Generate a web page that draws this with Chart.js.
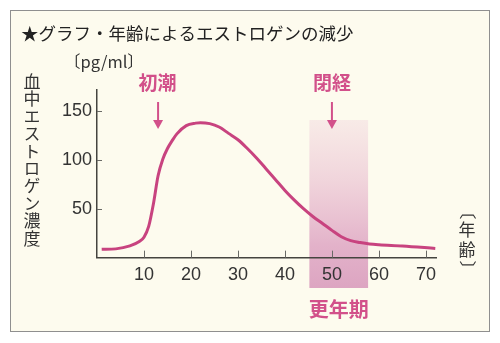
<!DOCTYPE html>
<html>
<head>
<meta charset="utf-8">
<script src="https://cdn.jsdelivr.net/npm/chart.js@4/dist/chart.umd.min.js"></script>
<style>
  html, body { margin: 0; padding: 0; background: #ffffff; }
  #wrap { width: 500px; height: 343px; position: relative; }
  #c { position: absolute; left: 0; top: 0; }
  .vlabel {
    position: absolute;
    writing-mode: vertical-rl;
    font-family: "Noto Sans CJK JP", "Noto Sans", sans-serif;
    color: #333333;
    white-space: nowrap;
  }
  #ytitle { left: 23.5px; top: 72.5px; font-size: 17px; line-height: 17px; letter-spacing: 0.4px; }
</style>
</head>
<body>
<div id="wrap">
  <canvas id="c" width="500" height="343"></canvas>
  <div class="vlabel" id="ytitle"></div>
</div>
<script>
// Age (years) and blood estrogen level (pg/ml)
const ages     = [1, 4, 7, 9, 10, 11, 12, 13, 14, 15, 16, 17, 19, 21, 22, 24, 26, 28, 30, 32, 34, 36, 38, 40, 42, 44, 46, 48, 50, 52, 54, 56, 58, 60, 65, 72];
const estrogen = [8.5, 9, 12, 16.5, 21, 32, 55, 84, 101, 112, 120, 127, 135.5, 138, 138.5, 137.5, 134, 127.5, 121, 112, 102, 91, 80, 69, 59, 50, 42, 35, 28, 21.5, 17.5, 15.5, 14, 13.2, 12, 9.5];

const xTicks = [10, 20, 30, 40, 50, 60, 70];
const yTicks = [50, 100, 150];

const menarcheAge = 13;
const menopauseAge = 50;
const climactericRange = [45.2, 57.7];

const titleText = '★グラフ・年齢によるエストロゲンの減少';
const unitText = '〔pg/ml〕';
const yAxisTitle = '血中エストロゲン濃度';
const xAxisTitle = ['〔', '年', '齢', '〕'];
const menarcheLabel = '初潮';
const menopauseLabel = '閉経';
const climactericLabel = '更年期';

document.getElementById('ytitle').textContent = yAxisTitle;

const PINK_LINE = '#c8437f';
const PINK_TEXT = '#d2508a';
const JP = '"Noto Sans CJK JP", "Noto Sans", sans-serif';
const NUM = '"Liberation Sans", Arial, sans-serif';

function drawArrow(ctx, x, y0, y1) {
  ctx.save();
  ctx.strokeStyle = PINK_TEXT;
  ctx.fillStyle = PINK_TEXT;
  ctx.lineWidth = 2;
  ctx.beginPath();
  ctx.moveTo(x, y0);
  ctx.lineTo(x, y1 - 7);
  ctx.stroke();
  ctx.beginPath();
  ctx.moveTo(x - 5, y1 - 9);
  ctx.lineTo(x + 5, y1 - 9);
  ctx.lineTo(x, y1);
  ctx.closePath();
  ctx.fill();
  ctx.restore();
}

const decor = {
  id: 'decor',
  beforeDraw(chart) {
    const ctx = chart.ctx;
    const xs = chart.scales.x;
    ctx.save();
    ctx.fillStyle = '#ffffff';
    ctx.fillRect(0, 0, chart.width, chart.height);
    ctx.fillStyle = '#fdfbee';
    ctx.fillRect(10, 10, 480, 322);
    ctx.strokeStyle = '#8f8f8f';
    ctx.lineWidth = 1;
    ctx.strokeRect(10.5, 10.5, 479, 321);

    // climacteric band, fading out toward the top
    const bx0 = xs.getPixelForValue(climactericRange[0]);
    const bx1 = xs.getPixelForValue(climactericRange[1]);
    const top = 120, bottom = 288;
    const g = ctx.createLinearGradient(0, top, 0, bottom);
    g.addColorStop(0, 'rgba(236, 196, 214, 0.3)');
    g.addColorStop(0.4, 'rgba(228, 175, 201, 0.55)');
    g.addColorStop(0.75, 'rgba(222, 165, 195, 0.85)');
    g.addColorStop(1, 'rgba(219, 160, 191, 0.95)');
    ctx.fillStyle = g;
    ctx.fillRect(bx0, top, bx1 - bx0, bottom - top);
    ctx.restore();
  },
  beforeDatasetsDraw(chart) {
    // tick marks pointing into the plot area
    const ctx = chart.ctx;
    const xs = chart.scales.x, ys = chart.scales.y;
    const area = chart.chartArea;
    ctx.save();
    ctx.strokeStyle = '#6a6a66';
    ctx.lineWidth = 1;
    ctx.beginPath();
    xTicks.forEach(v => {
      const px = Math.round(xs.getPixelForValue(v)) + 0.5;
      ctx.moveTo(px, area.bottom);
      ctx.lineTo(px, area.bottom - 7);
    });
    yTicks.forEach(v => {
      const py = Math.round(ys.getPixelForValue(v)) + 0.5;
      ctx.moveTo(area.left, py);
      ctx.lineTo(area.left + 5, py);
    });
    ctx.stroke();
    ctx.restore();
  },
  afterDraw(chart) {
    const ctx = chart.ctx;
    const xs = chart.scales.x;
    ctx.save();
    ctx.textBaseline = 'middle';

    ctx.fillStyle = '#222222';
    ctx.textAlign = 'left';
    ctx.font = '17.5px ' + JP;
    ctx.fillText(titleText, 21, 33);

    ctx.fillStyle = '#333333';
    ctx.font = '16.5px ' + JP;
    ctx.fillText(unitText, 64, 62);

    // vertical x-axis caption; the brackets are turned a quarter turn
    ctx.textAlign = 'center';
    ctx.font = '17px ' + JP;
    const capY = [211, 230, 249.5, 269];
    xAxisTitle.forEach((ch, i) => {
      if (i === 0 || i === xAxisTitle.length - 1) {
        ctx.save();
        ctx.translate(467, capY[i]);
        ctx.rotate(Math.PI / 2);
        ctx.fillText(ch, 0, 0);
        ctx.restore();
      } else {
        ctx.fillText(ch, 467, capY[i]);
      }
    });

    ctx.fillStyle = PINK_TEXT;
    ctx.font = 'bold 19px ' + JP;
    const mx = xs.getPixelForValue(menarcheAge);
    const px = xs.getPixelForValue(menopauseAge);
    ctx.fillText(menarcheLabel, mx - 0.5, 83);
    ctx.fillText(menopauseLabel, px, 83);
    ctx.font = 'bold 20px ' + JP;
    const cx = xs.getPixelForValue((climactericRange[0] + climactericRange[1]) / 2);
    ctx.fillText(climactericLabel, cx, 309);

    drawArrow(ctx, mx, 102, 129);
    drawArrow(ctx, px, 102, 129);
    ctx.restore();
  }
};

new Chart(document.getElementById('c'), {
  type: 'line',
  data: {
    datasets: [{
      data: ages.map((a, i) => ({ x: a, y: estrogen[i] })),
      borderColor: PINK_LINE,
      borderWidth: 3,
      pointRadius: 0,
      fill: false,
      cubicInterpolationMode: 'monotone'
    }]
  },
  options: {
    responsive: false,
    animation: false,
    devicePixelRatio: 1,
    layout: { padding: { left: 57, right: 63.3, top: 90, bottom: 55.35 } },
    plugins: { legend: { display: false }, tooltip: { enabled: false }, title: { display: false } },
    scales: {
      x: {
        type: 'linear',
        min: 0,
        max: 72.3,
        afterBuildTicks: s => { s.ticks = xTicks.map(v => ({ value: v })); },
        afterFit: s => { s.height = 30; },
        grid: { drawOnChartArea: false, drawTicks: false },
        border: { display: true, color: '#45443f', width: 1.5 },
        ticks: { color: '#333333', font: { family: NUM, size: 18 }, padding: 7, maxRotation: 0, autoSkip: false }
      },
      y: {
        type: 'linear',
        min: 0,
        max: 172,
        afterBuildTicks: s => { s.ticks = yTicks.map(v => ({ value: v })); },
        afterFit: s => { s.width = 40; },
        grid: { drawOnChartArea: false, drawTicks: false },
        border: { display: true, color: '#45443f', width: 1.5 },
        ticks: { color: '#333333', font: { family: NUM, size: 18 }, padding: 5 }
      }
    }
  },
  plugins: [decor]
});
</script>
</body>
</html>
